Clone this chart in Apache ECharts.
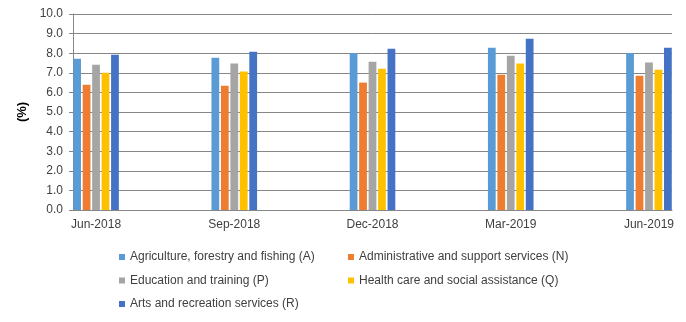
<!DOCTYPE html>
<html>
<head>
<meta charset="utf-8">
<script src="https://cdn.jsdelivr.net/npm/echarts@6/dist/echarts.min.js"></script>
<style>
  html, body { margin: 0; padding: 0; background: #fff; }
  #chart { width: 686px; height: 322px; }
</style>
</head>
<body>
<div id="chart"></div>
<script>
// monthly date axis, bars only on the quarter months
let months = ['Jun-2018', 'Jul-2018', 'Aug-2018', 'Sep-2018', 'Oct-2018', 'Nov-2018', 'Dec-2018',
  'Jan-2019', 'Feb-2019', 'Mar-2019', 'Apr-2019', 'May-2019', 'Jun-2019']
let quarters = ['Jun-2018', 'Sep-2018', 'Dec-2018', 'Mar-2019', 'Jun-2019']

let agriculture = [7.72, 7.77, 8.01, 8.28, 8.01]
let administrative = [6.39, 6.34, 6.50, 6.90, 6.85]
let education = [7.41, 7.48, 7.57, 7.87, 7.53]
let health = [7.00, 7.06, 7.21, 7.48, 7.16]
let arts = [7.92, 8.08, 8.23, 8.74, 8.28]

let names = [
  'Agriculture, forestry and fishing (A)',
  'Administrative and support services (N)',
  'Education and training (P)',
  'Health care and social assistance (Q)',
  'Arts and recreation services (R)'
]
let colors = ['#5B9BD5', '#ED7D31', '#A5A5A5', '#FFC000', '#4472C4']
let values = [agriculture, administrative, education, health, arts]

function toMonths(vals){
  return months.map(m => {
    let i = quarters.indexOf(m)
    return i < 0 ? '-' : vals[i]
  })
}

let font = 'Liberation Sans'
let myChart = echarts.init(document.getElementById('chart'))

let legendText = { color: '#404040', fontSize: 12, fontFamily: font }
let legendBase = {
  orient: 'vertical',
  top: 246,
  itemWidth: 6,
  itemHeight: 6,
  itemGap: 11.5,
  icon: 'rect',
  textStyle: legendText
}
let option = {
  animation: false,
  grid: { left: 73, right: 14, top: 14, bottom: 112 },
  legend: [
    Object.assign({ left: 114, data: [names[0], names[2], names[4]] }, legendBase),
    Object.assign({ left: 343, data: [names[1], names[3]] }, legendBase)
  ],
  xAxis: {
    type: 'category',
    data: months,
    boundaryGap: true,
    axisLine: { lineStyle: { color: '#868686' } },
    axisTick: { interval: 2, length: 4, lineStyle: { color: '#868686' } },
    axisLabel: { interval: 2, margin: 9, color: '#404040', fontSize: 12, fontFamily: font }
  },
  yAxis: {
    type: 'value',
    min: 0,
    max: 10,
    interval: 1,
    name: '(%)',
    nameLocation: 'middle',
    nameGap: 36,
    nameRotate: 90,
    nameTextStyle: { color: '#000', fontSize: 13, fontWeight: 'bold', fontFamily: font },
    axisLine: { show: true, lineStyle: { color: '#868686' } },
    axisTick: { show: true, length: 4, lineStyle: { color: '#868686' } },
    axisLabel: {
      margin: 10, color: '#404040', fontSize: 12, fontFamily: font,
      formatter: v => v.toFixed(1)
    },
    splitLine: { lineStyle: { color: '#868686' } }
  },
  series: values.map((vals, k) => ({
    name: names[k],
    type: 'bar',
    data: toMonths(vals),
    barGap: '22%',
    barCategoryGap: '1%',
    itemStyle: { color: colors[k] }
  }))
}
myChart.setOption(option)
</script>
</body>
</html>
